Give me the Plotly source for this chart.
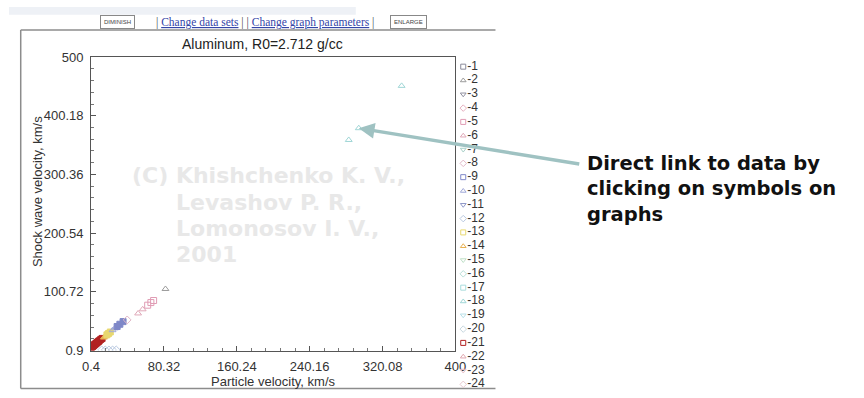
import plotly.graph_objects as go

# ---- data: particle velocity (km/s) vs shock wave velocity (km/s) ----
up_21 = [0.6, 1.1, 1.7, 2.2, 2.8, 3.3, 3.9, 4.5, 5.2, 6.0, 6.8, 7.6, 8.5, 9.4, 11.0, 12.5]
us_21 = [6.1, 6.8, 7.6, 8.2, 9.0, 9.7, 10.4, 11.2, 12.1, 13.2, 14.2, 15.3, 16.4, 17.6, 19.8, 21.5]
up_14 = [14.5, 16.0]
us_14 = [23.0, 25.2]
up_13 = [17.8, 19.5, 21.5]
us_13 = [27.6, 29.8, 32.4]
up_12 = [12.0, 16.0, 20.0, 24.0, 28.0]
us_12 = [2.0, 2.0, 2.0, 2.0, 2.0]
up_10 = [24.0, 26.5]
us_10 = [35.5, 38.6]
up_9 = [29.0, 32.0, 35.5]
us_9 = [41.8, 45.6, 50.1]
up_8 = [40.0]
us_8 = [53.0]
up_6 = [52.0, 57.0]
us_6 = [64.0, 71.0]
up_5 = [62.5, 66.0, 69.0]
us_5 = [78.0, 82.5, 86.0]
up_2 = [82.0]
us_2 = [105.6]
up_18 = [283.0, 294.0, 341.0]
us_18 = [359.0, 379.0, 451.0]

x_ticks = [0.4, 80.32, 160.24, 240.16, 320.08, 400]
y_ticks = [0.9, 100.72, 200.54, 300.36, 400.18, 500]

series_names = ["-%d" % i for i in range(1, 25)]
series_symbols = ["square-open", "triangle-up-open", "triangle-down-open", "diamond-open"] * 6
series_colors = [
    "#8a8a9a", "#9c9c9c", "#9090a0", "#e6b0c0",
    "#e09cb4", "#e0a8b8", "#a8d0c8", "#e2b8c8",
    "#7f88c8", "#a0a8d8", "#9098c8", "#b8c8e0",
    "#e8d870", "#e8b050", "#c0e0c8", "#b8e0d8",
    "#a8dcdc", "#9fd6d6", "#b8e0e8", "#c8d8e0",
    "#b22222", "#e0a8b0", "#e8c0c8", "#e8c8d0",
]

FONT = "Liberation Sans, Arial, sans-serif"
W, H = 864, 398


def px(x):
    return x / W


def py(y):
    return 1 - y / H


fig = go.Figure()

data_sets = {
    21: (up_21, us_21), 14: (up_14, us_14), 13: (up_13, us_13), 12: (up_12, us_12),
    10: (up_10, us_10), 9: (up_9, us_9), 8: (up_8, us_8), 6: (up_6, us_6),
    5: (up_5, us_5), 2: (up_2, us_2), 18: (up_18, us_18),
}
for n, (xs, ys) in data_sets.items():
    sym = series_symbols[n - 1]
    if n in (21, 13, 14, 9):
        sym = sym.replace("-open", "")
    fig.add_trace(go.Scatter(
        x=xs, y=ys, mode="markers", name=series_names[n - 1],
        marker=dict(symbol=sym, size=6, color=series_colors[n - 1],
                    line=dict(width=1, color=series_colors[n - 1])),
        xaxis="x", yaxis="y", cliponaxis=True,
    ))

# side key: one symbol + label per data set
fig.add_trace(go.Scatter(
    x=[0] * len(series_names), y=list(range(1, len(series_names) + 1)),
    mode="markers+text", text=series_names, textposition="middle right",
    textfont=dict(family=FONT, size=12, color="#333333"),
    marker=dict(symbol=series_symbols, size=5, color=series_colors,
                line=dict(width=1, color=series_colors)),
    xaxis="x2", yaxis="y2", cliponaxis=False, hoverinfo="skip",
))

axis_common = dict(
    showline=True, linecolor="#555555", linewidth=1, mirror=True,
    showgrid=False, zeroline=False, ticks="inside", ticklen=5,
    tickcolor="#555555", tickfont=dict(family=FONT, size=13, color="#333333"),
)

fig.update_layout(
    width=W, height=H, margin=dict(l=0, r=0, t=0, b=0),
    paper_bgcolor="white", plot_bgcolor="rgba(0,0,0,0)", showlegend=False,
    xaxis=dict(domain=[px(84), px(457)], range=[0.4, 400], tickmode="array",
               tickvals=x_ticks, ticktext=["0.4", "80.32", "160.24", "240.16", "320.08", "400"],
               minor=dict(tickmode="linear", tick0=0.4, dtick=15.984, ticks="inside",
                          ticklen=3, tickcolor="#777777", showgrid=False),
               ticklabelstandoff=4, anchor="y", **axis_common),
    yaxis=dict(domain=[py(357), py(52)], range=[0.9, 500], tickmode="array",
               tickvals=y_ticks, ticktext=["0.9", "100.72", "200.54", "300.36", "400.18", "500"],
               minor=dict(tickmode="linear", tick0=0.9, dtick=19.964, ticks="inside",
                          ticklen=3, tickcolor="#777777", showgrid=False),
               ticklabelstandoff=4, anchor="x", **axis_common),
    xaxis2=dict(domain=[0, 1], range=[-465, 399], visible=False, anchor="y2"),
    yaxis2=dict(domain=[0, 1], range=[24.41, -3.32], visible=False, anchor="x2"),
)

frame = dict(color="#8c8c8c", width=1.5)
shapes = [
    # page header band
    dict(type="rect", xref="paper", yref="paper", x0=0, x1=px(355), y0=py(8), y1=1,
         fillcolor="#eef1f6", line=dict(width=0), layer="below"),
    # applet frame (left, top, bottom edges)
    dict(type="line", xref="paper", yref="paper", x0=px(12), x1=px(12), y0=py(24), y1=py(396.5),
         line=frame, layer="below"),
    dict(type="line", xref="paper", yref="paper", x0=px(12), x1=px(498), y0=py(24), y1=py(24),
         line=frame, layer="below"),
    dict(type="line", xref="paper", yref="paper", x0=px(12), x1=px(498), y0=py(396.5), y1=py(396.5),
         line=frame, layer="below"),
]
fig.update_layout(shapes=shapes)

ann = []
# watermark
wm_font = dict(family="DejaVu Sans, sans-serif", size=22, color="#e8e8e8", weight=700)
for txt, x0, y0 in [("(C) Khishchenko K. V.,", 124, 175), ("Levashov P. R.,", 169, 203),
                    ("Lomonosov I. V.,", 169, 230), ("2001", 169, 257)]:
    ann.append(dict(text=txt, xref="paper", yref="paper", x=px(x0), y=py(y0),
                    xanchor="left", yanchor="middle", showarrow=False, font=wm_font))
# chart title and axis titles
ann.append(dict(text="Aluminum, R0=2.712 g/cc", xref="paper", yref="paper", x=px(259), y=py(38),
                xanchor="center", yanchor="middle", showarrow=False,
                font=dict(family=FONT, size=14, color="#222222")))
ann.append(dict(text="Particle velocity, km/s", xref="paper", yref="paper", x=px(271), y=py(389),
                xanchor="center", yanchor="middle", showarrow=False,
                font=dict(family=FONT, size=13, color="#333333")))
ann.append(dict(text="Shock wave velocity, km/s", xref="paper", yref="paper", x=px(29), y=py(192),
                xanchor="center", yanchor="middle", showarrow=False, textangle=-90,
                font=dict(family=FONT, size=13, color="#333333")))
# control row above the chart
btn_font = dict(family=FONT, size=6, color="#444444")
ann.append(dict(text="DIMINISH", xref="paper", yref="paper", x=px(111), y=py(16),
                xanchor="center", yanchor="middle", showarrow=False, font=btn_font,
                bordercolor="#888888", borderwidth=1, borderpad=3, bgcolor="white"))
ann.append(dict(text="ENLARGE", xref="paper", yref="paper", x=px(409), y=py(16),
                xanchor="center", yanchor="middle", showarrow=False, font=btn_font,
                bordercolor="#888888", borderwidth=1, borderpad=3, bgcolor="white"))
link = "<span style='color:#3345a8'><u>%s</u></span>"
ann.append(dict(text="| " + link % "Change data sets" + " | | " + link % "Change graph parameters" + " |",
                xref="paper", yref="paper", x=px(262), y=py(16), xanchor="center", yanchor="middle",
                showarrow=False, font=dict(family="Liberation Serif, serif", size=11.5, color="#444444")))
# callout
ann.append(dict(text="", xref="x", yref="y", x=294.0, y=379.0, axref="pixel", ayref="pixel",
                ax=222, ay=36, showarrow=True, arrowhead=2, arrowsize=0.9, arrowwidth=3.5,
                arrowcolor="#9fc2c2", standoff=0))
ann.append(dict(text="Direct link to data by<br>clicking on symbols on<br>graphs",
                xref="paper", yref="paper", x=px(590), y=py(149), xanchor="left", yanchor="top",
                align="left", showarrow=False,
                font=dict(family="DejaVu Sans, sans-serif", size=19.5, color="#111111", weight=700)))
fig.update_layout(annotations=ann)

fig.write_html("out.html")
